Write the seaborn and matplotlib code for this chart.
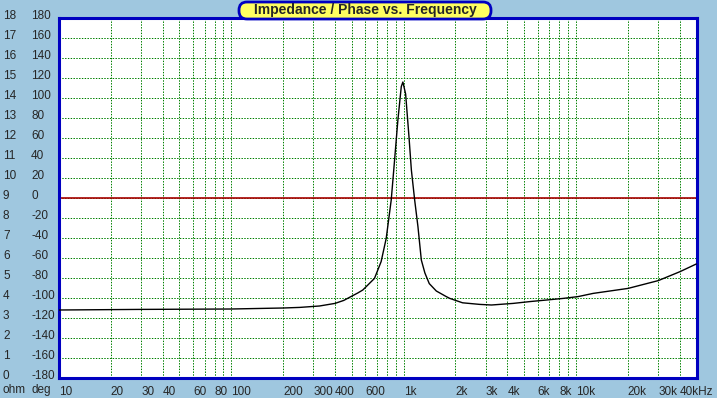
import numpy as np
import pandas as pd
import seaborn as sns
import matplotlib.pyplot as plt
import matplotlib.transforms as mtransforms
from matplotlib.patches import FancyBboxPatch

# impedance curve (Hz, ohm)
freq = [10, 30, 100, 200, 250, 325, 400, 450, 485, 542, 580, 678, 741, 793, 848, 887,
        927, 970, 991, 1028, 1075, 1110, 1160, 1212, 1268, 1330, 1410, 1549, 1770, 1855,
        2200, 2770, 3240, 4330, 5400, 6770, 8450, 10300, 12600, 20100, 30100, 40300, 50000]
ohm = [3.40, 3.43, 3.45, 3.50, 3.53, 3.60, 3.73, 3.88, 4.03, 4.25, 4.40, 4.98, 5.82, 6.98, 8.90, 10.9,
       12.9, 14.57, 14.8, 14.2, 12.07, 10.4, 8.9, 7.57, 5.9, 5.25, 4.72, 4.35, 4.07, 3.98,
       3.76, 3.68, 3.65, 3.73, 3.82, 3.90, 3.98, 4.07, 4.23, 4.48, 4.87, 5.32, 5.70]

x_ticks = [10, 20, 30, 40, 60, 80, 100, 200, 300, 400, 600, 1000, 2000, 3000, 4000,
           6000, 8000, 10000, 20000, 30000, 40000]
x_labels = ['10', '20', '30', '40', '60', '80', '100', '200', '300', '400', '600', '1k',
            '2k', '3k', '4k', '6k', '8k', '10k', '20k', '30k', '40kHz']
ohm_ticks = list(range(0, 19))
deg_ticks = [-180 + 20 * v for v in ohm_ticks]

title = 'Impedance / Phase vs. Frequency'

bg = '#9FC7DF'
grid_green = '#008000'
border_blue = '#0000C0'

df = pd.DataFrame({'freq': freq, 'ohm': ohm})

sns.set_style('white')
plt.rcParams['font.family'] = ['Liberation Sans', 'DejaVu Sans']

W, H = 717, 398
fig = plt.figure(figsize=(W / 100, H / 100), dpi=100, facecolor=bg)
ax = fig.add_axes([59 / W, (H - 378) / H, (697 - 59) / W, (378 - 18) / H])
ax.set_facecolor('white')

ax.set_xscale('log')
ax.set_xlim(10, 50500)
ax.set_ylim(0, 18)

# grid: every 1..9 per decade, every ohm
minor = [m * 10 ** d for d in range(1, 5) for m in range(1, 10)]
ax.set_xticks([v for v in minor if 10 <= v <= 50000], minor=True)
ax.set_xticks(x_ticks, x_labels)
ax.set_yticks(ohm_ticks, [''] * len(ohm_ticks))
ax.grid(True, which='both', color=grid_green, linestyle=(0, (1.4, 1.4)), linewidth=0.72)
ax.tick_params(axis='both', which='both', length=0)
ax.tick_params(axis='x', pad=6, labelsize=8.5)
for lab in ax.get_xticklabels():
    lab.set_horizontalalignment('left')

# zero phase line
ax.axhline(9, color='#A80000', linewidth=1.2, zorder=2)

sns.lineplot(data=df, x='freq', y='ohm', color='black', linewidth=1, ax=ax, zorder=3)
ax.set_xlabel('')
ax.set_ylabel('')

for s in ax.spines.values():
    s.set_color(border_blue)
    s.set_linewidth(2.2)

# two label columns on the left
tr = mtransforms.blended_transform_factory(fig.transFigure, ax.transData)
for o, d in zip(ohm_ticks, deg_ticks):
    ax.text(3 / W, o + 0.08, str(o), transform=tr, ha='left', va='center', fontsize=8.5, clip_on=False)
    ax.text(31 / W, o + 0.08, str(d), transform=tr, ha='left', va='center', fontsize=8.5, clip_on=False)
fig.text(3 / W, 1 - 390 / H, 'ohm', ha='left', va='center', fontsize=8.5)
fig.text(31 / W, 1 - 390 / H, 'deg', ha='left', va='center', fontsize=8.5)

# title box
box = FancyBboxPatch((2.39, (H - 19) / 100), 2.52, 0.17,
                     boxstyle='round,pad=0,rounding_size=0.08',
                     transform=fig.dpi_scale_trans, facecolor='#FFFF60',
                     edgecolor=border_blue, linewidth=2, zorder=5)
fig.patches.append(box)
fig.text(365 / W, 1 - 10 / H, title, ha='center', va='center', fontsize=10,
         fontweight='bold', zorder=6)

fig.savefig('out.png', dpi=100, facecolor=bg)
